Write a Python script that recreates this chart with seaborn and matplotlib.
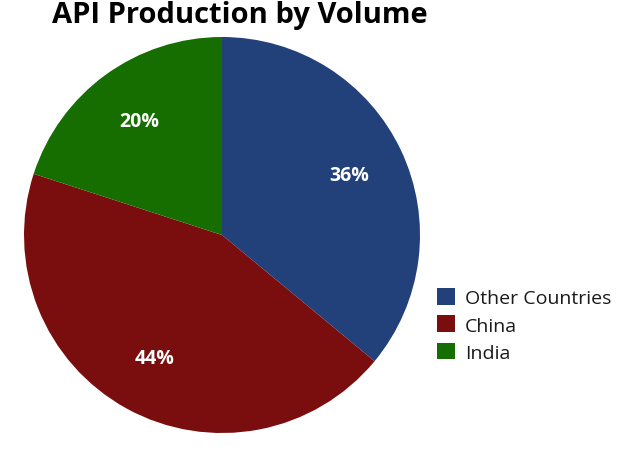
import matplotlib
matplotlib.use("Agg")
import matplotlib.pyplot as plt
import seaborn as sns

labels = ["Other Countries", "China", "India"]
shares = [36, 44, 20]
colors = ["#22407a", "#7a0e0e", "#166d00"]

sns.set_style("white")
plt.rcParams['font.family'] = ['Open Sans', 'DejaVu Sans']
plt.rcParams['text.color'] = '#111111'

fig = plt.figure(figsize=(6.23, 4.64), dpi=100)
ax = fig.add_axes([24 / 623, 30 / 464, 396 / 623, 396 / 464])
palette = sns.color_palette(colors)

wedges, texts, autotexts = ax.pie(
    shares, colors=palette, startangle=90, counterclock=False,
    autopct='%1.0f%%', pctdistance=0.71,
    wedgeprops=dict(linewidth=0),
    textprops=dict(color='white', fontsize=14, fontweight='bold'))
ax.set_xlim(-1, 1)
ax.set_ylim(-1, 1)
ax.set_aspect('equal')

fig.text(240 / 623, 1 - 15 / 464, "API Production by Volume", ha='center', va='center',
         fontsize=21, fontweight='bold', color='black')

fig.legend(wedges, labels, loc='center left', bbox_to_anchor=(419 / 623, 1 - 326 / 464),
           frameon=False, fontsize=14, handlelength=0.95, handleheight=0.95,
           handletextpad=0.5, labelspacing=0.42, labelcolor='#1a1a1a')

fig.savefig("out.png", dpi=100)
